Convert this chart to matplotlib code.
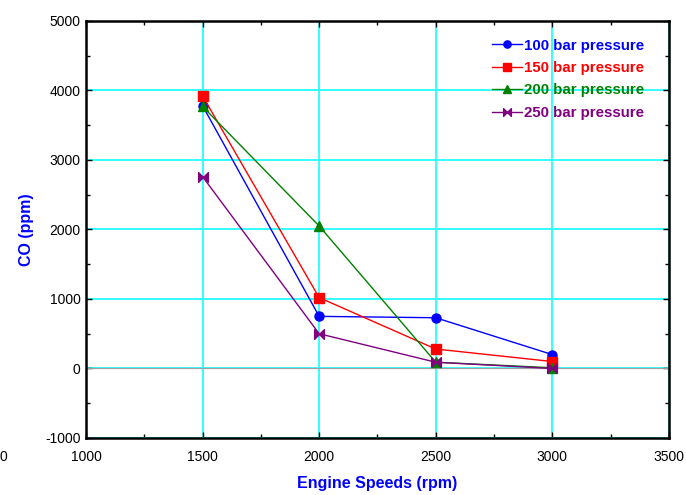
import matplotlib.pyplot as plt
import numpy as np
from matplotlib.path import Path
from matplotlib.ticker import MultipleLocator

plt.rcParams['font.family'] = ['Liberation Sans', 'DejaVu Sans']
plt.rcParams['axes.unicode_minus'] = False

# 数据
speeds = [1500, 2000, 2500, 3000]
co_100 = [3780, 750, 730, 200]
co_150 = [3920, 1020, 280, 100]
co_200 = [3770, 2050, 90, 10]
co_250 = [2760, 500, 90, 0]
labels = ['100 bar pressure', '150 bar pressure', '200 bar pressure', '250 bar pressure']
colors = ['#0000FF', '#FF0000', '#008000', '#800080']

# 蝴蝶结形状的标记 (250 bar)
bowtie = Path([(-1, -1), (-1, 1), (0, 0), (1, 1), (1, -1), (0, 0), (-1, -1)],
              [Path.MOVETO, Path.LINETO, Path.LINETO, Path.LINETO, Path.LINETO, Path.LINETO, Path.CLOSEPOLY])
markers = ['o', 's', '^', bowtie]
sizes = [6.5, 6.5, 7, 7]

fig = plt.figure(figsize=(6.86, 4.95), dpi=100)
ax = fig.add_axes([0.1254, 0.1152, 0.8496, 0.8424])

ax.axhline(0, color='#a0a0a0', lw=0.9, zorder=1.5)
for vals, lab, c, m, s in zip([co_100, co_150, co_200, co_250], labels, colors, markers, sizes):
    ax.plot(speeds, vals, color=c, marker=m, ms=s, lw=1.0, label=lab, zorder=3)

ax.set_xlim(1000, 3500)
ax.set_ylim(-1000, 5000)
ax.xaxis.set_major_locator(MultipleLocator(500))
ax.xaxis.set_minor_locator(MultipleLocator(250))
ax.yaxis.set_major_locator(MultipleLocator(1000))
ax.yaxis.set_minor_locator(MultipleLocator(500))
ax.grid(True, which='major', color='#33FFFF', lw=1.4, zorder=1)
ax.set_axisbelow(True)
ax.tick_params(which='both', direction='in', top=True, right=True, labelsize=10)
ax.tick_params(axis='x', which='major', pad=9)
ax.tick_params(axis='y', which='major', pad=4)
ax.tick_params(which='major', length=4, width=1)
ax.tick_params(which='minor', length=3, width=1)
for sp in ax.spines.values():
    sp.set_linewidth(1.8)

ax.set_xlabel('Engine Speeds (rpm)', color='#0000FF', fontsize=11.5, fontweight='bold', labelpad=8)
ax.set_ylabel('CO (ppm)', color='#0000FF', fontsize=11.5, fontweight='bold', labelpad=8)

leg = ax.legend(loc='upper right', bbox_to_anchor=(0.976, 0.983), frameon=False,
                handlelength=2.0, handletextpad=0.15, labelspacing=0.56, borderaxespad=0.3,
                markerscale=0.8, prop={'weight': 'bold', 'size': 10.8})
for t, c in zip(leg.get_texts(), colors):
    t.set_color(c)

# 左下角残留的 "0"
fig.text(0.0, 0.077, '0', fontsize=10, ha='left', va='center')

fig.savefig('out.png', dpi=100)
